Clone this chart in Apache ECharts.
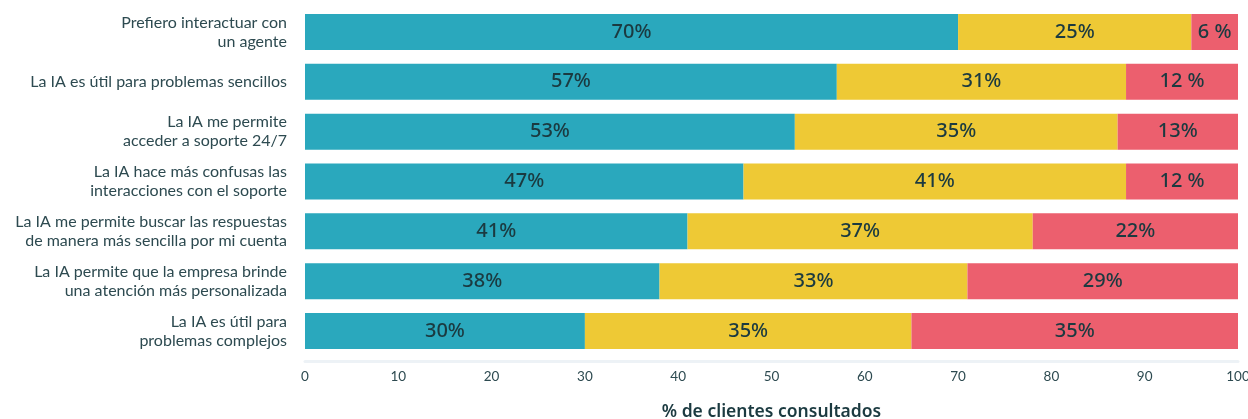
<!DOCTYPE html>
<html>
<head>
<meta charset="utf-8">
<script src="https://cdn.jsdelivr.net/npm/echarts@6/dist/echarts.min.js"></script>
<style>
html,body{margin:0;padding:0;background:#fff;}
#chart{width:1248px;height:419px;}
</style>
</head>
<body>
<div id="chart"></div>
<script>
const categories = [
  "Prefiero interactuar con\nun agente",
  "La IA es útil para problemas sencillos",
  "La IA me permite\nacceder a soporte 24/7",
  "La IA hace más confusas las\ninteracciones con el soporte",
  "La IA me permite buscar las respuestas\nde manera más sencilla por mi cuenta",
  "La IA permite que la empresa brinde\nuna atención más personalizada",
  "La IA es útil para\nproblemas complejos"
];
const tealValues = [70, 57, 52.5, 47, 41, 38, 30];
const yellowValues = [25, 31, 34.6, 41, 37, 33, 35];
const redValues = [5, 12, 12.9, 12, 22, 29, 35];
const tealLabels = ["70%", "57%", "53%", "47%", "41%", "38%", "30%"];
const yellowLabels = ["25%", "31%", "35%", "41%", "37%", "33%", "35%"];
const redLabels = ["6 %", "12 %", "13%", "12 %", "22%", "29%", "35%"];
const xTicks = [0, 10, 20, 30, 40, 50, 60, 70, 80, 90, 100];
const axisTitle = "% de clientes consultados";

const labelFont = {
  show: true,
  position: "inside",
  fontFamily: "Noto Sans",
  fontSize: 20,
  fontWeight: 500,
  color: "#1b3a40"
};
function mkSeries(name, vals, labels, color) {
  return {
    name: name,
    type: "bar",
    stack: "total",
    barWidth: 36,
    data: vals,
    itemStyle: { color: color },
    label: Object.assign({}, labelFont, {
      formatter: p => labels[p.dataIndex]
    }),
    emphasis: { disabled: true }
  };
}

const chart = echarts.init(document.getElementById("chart"), null, { renderer: "canvas" });
chart.setOption({
  animation: false,
  grid: { left: 305, right: 10, top: 7, bottom: 63, containLabel: false, outerBoundsMode: "none" },
  xAxis: {
    type: "value",
    min: xTicks[0],
    max: xTicks[xTicks.length - 1],
    interval: 10,
    offset: 5,
    splitLine: { show: false },
    axisTick: { show: false },
    axisLine: { show: true, lineStyle: { color: "#edf2f6", width: 3 } },
    axisLabel: {
      fontFamily: "Lato",
      fontSize: 13.5,
      color: "#2d4a50",
      margin: 9
    },
    name: axisTitle,
    nameLocation: "middle",
    nameGap: 42,
    nameTextStyle: {
      fontFamily: "Noto Sans",
      fontSize: 17.5,
      fontWeight: 600,
      color: "#1b3a40"
    }
  },
  yAxis: {
    type: "category",
    data: categories,
    inverse: true,
    axisLine: { show: false },
    axisTick: { show: false },
    splitLine: { show: false },
    axisLabel: {
      fontFamily: "Lato",
      fontSize: 16,
      lineHeight: 19,
      color: "#2d4a50",
      margin: 18,
      align: "right"
    }
  },
  series: [
    mkSeries("teal", tealValues, tealLabels, "#2aa8bd"),
    mkSeries("yellow", yellowValues, yellowLabels, "#eec935"),
    mkSeries("red", redValues, redLabels, "#ec5f6e")
  ]
});
</script>
</body>
</html>
